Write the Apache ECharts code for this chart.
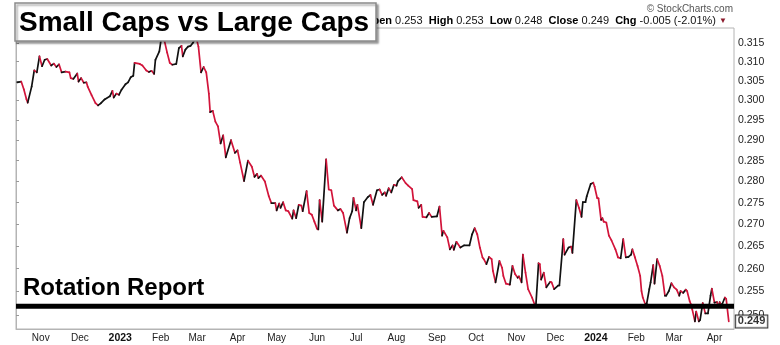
<!DOCTYPE html>
<html>
<head>
<meta charset="utf-8">
<script src="https://cdn.jsdelivr.net/npm/echarts@6/dist/echarts.min.js"></script>
<style>
  html, body { margin: 0; padding: 0; background: #fff; }
  #chart { width: 780px; height: 345px; }
</style>
</head>
<body>
<div id="chart"></div>
<script>
  // $SML:$SPX ratio, day offsets counted from startDay
  const startDay = '2022-10-13'
  const endDay = '2024-04-16'
  const dayOffset = [
    1, 4, 6, 8, 9, 12, 14, 16, 18, 20, 22, 24, 27, 29, 31, 33, 35, 38, 41, 42,
    44, 47, 48, 50, 52, 54, 55, 58, 61, 63, 65, 68, 72, 74, 75, 77, 79, 81, 84, 86,
    88, 90, 91, 95, 97, 100, 102, 104, 106, 107, 110, 112, 114, 116, 118, 120, 123, 125, 127, 128,
    130, 132, 134, 136, 138, 140, 142, 144, 146, 148, 149, 151, 153, 155, 157, 159, 161, 165, 168, 170,
    172, 175, 178, 181, 183, 185, 186, 188, 191, 194, 196, 199, 200, 202, 203, 205, 207, 209, 212, 213,
    215, 217, 219, 220, 223, 225, 227, 229, 231, 232, 233, 235, 238, 240, 242, 244, 247, 249, 251, 254,
    256, 258, 259, 261, 262, 265, 267, 270, 272, 274, 277, 279, 281, 283, 284, 286, 288, 290, 292, 293,
    296, 299, 301, 304, 305, 308, 309, 311, 312, 315, 317, 319, 323, 325, 327, 328, 331, 333, 335, 336,
    338, 341, 344, 348, 350, 352, 354, 356, 358, 359, 361, 363, 365, 366, 368, 371, 373, 374, 376, 379,
    381, 383, 385, 386, 388, 389, 391, 393, 396, 398, 399, 401, 402, 403, 405, 407, 410, 411, 413, 416,
    417, 420, 421, 424, 426, 427, 430, 432, 434, 435, 437, 438, 441, 443, 444, 446, 447, 449, 450, 451,
    453, 455, 457, 460, 462, 464, 466, 468, 470, 472, 473, 475, 477, 479, 480, 481, 483, 484, 486, 487,
    489, 490, 492, 494, 496, 498, 499, 501, 503, 505, 507, 509, 510, 512, 514, 515, 517, 518, 519, 521,
    522, 524, 525, 527, 529, 531, 533, 534, 536, 538, 539, 540, 541, 542, 544, 545, 547
  ]
  const ratio = [
    0.3046, 0.3048, 0.3028, 0.3003, 0.2994, 0.3035, 0.3077, 0.3072, 0.3114, 0.3088, 0.3105, 0.3107, 0.3090, 0.3095, 0.3086, 0.3093, 0.3072, 0.3074, 0.3072, 0.3057,
    0.3055, 0.3069, 0.3048, 0.3057, 0.3045, 0.3046, 0.3035, 0.3013, 0.2993, 0.2987, 0.2992, 0.3002, 0.3010, 0.3024, 0.3007, 0.3017, 0.3014, 0.3027, 0.3041, 0.3046,
    0.3059, 0.3063, 0.3097, 0.3094, 0.3090, 0.3077, 0.3073, 0.3076, 0.3068, 0.3105, 0.3127, 0.3175, 0.3154, 0.3124, 0.3097, 0.3092, 0.3094, 0.3136, 0.3142, 0.3114,
    0.3132, 0.3140, 0.3142, 0.3151, 0.3168, 0.3140, 0.3072, 0.3086, 0.3072, 0.3017, 0.2970, 0.2973, 0.2946, 0.2934, 0.2892, 0.2912, 0.2858, 0.2900, 0.2869, 0.2875,
    0.2845, 0.2801, 0.2850, 0.2835, 0.2811, 0.2818, 0.2808, 0.2814, 0.2800, 0.2765, 0.2749, 0.2749, 0.2732, 0.2748, 0.2738, 0.2751, 0.2732, 0.2730, 0.2713, 0.2732,
    0.2714, 0.2745, 0.2743, 0.2730, 0.2777, 0.2726, 0.2722, 0.2706, 0.2690, 0.2688, 0.2756, 0.2706, 0.2853, 0.2781, 0.2779, 0.2743, 0.2732, 0.2735, 0.2726, 0.2681,
    0.2714, 0.2730, 0.2761, 0.2732, 0.2745, 0.2691, 0.2751, 0.2763, 0.2768, 0.2745, 0.2779, 0.2781, 0.2768, 0.2774, 0.2766, 0.2784, 0.2774, 0.2792, 0.2790, 0.2800,
    0.2810, 0.2796, 0.2790, 0.2782, 0.2756, 0.2753, 0.2738, 0.2745, 0.2717, 0.2716, 0.2726, 0.2717, 0.2718, 0.2741, 0.2674, 0.2685, 0.2670, 0.2643, 0.2652, 0.2642,
    0.2660, 0.2647, 0.2652, 0.2652, 0.2677, 0.2691, 0.2677, 0.2647, 0.2625, 0.2621, 0.2610, 0.2626, 0.2621, 0.2595, 0.2570, 0.2617, 0.2602, 0.2584, 0.2567, 0.2565,
    0.2606, 0.2588, 0.2580, 0.2583, 0.2570, 0.2631, 0.2591, 0.2555, 0.2537, 0.2522, 0.2522, 0.2612, 0.2610, 0.2576, 0.2591, 0.2559, 0.2571, 0.2570, 0.2555, 0.2563,
    0.2563, 0.2666, 0.2631, 0.2647, 0.2649, 0.2635, 0.2756, 0.2738, 0.2717, 0.2751, 0.2751, 0.2765, 0.2794, 0.2797, 0.2788, 0.2761, 0.2760, 0.2710, 0.2714, 0.2706,
    0.2704, 0.2674, 0.2663, 0.2643, 0.2625, 0.2623, 0.2666, 0.2625, 0.2626, 0.2631, 0.2643, 0.2625, 0.2606, 0.2584, 0.2551, 0.2537, 0.2522, 0.2524, 0.2555, 0.2570,
    0.2608, 0.2567, 0.2621, 0.2606, 0.2584, 0.2541, 0.2541, 0.2551, 0.2568, 0.2559, 0.2554, 0.2541, 0.2551, 0.2547, 0.2554, 0.2551, 0.2529, 0.2522, 0.2511, 0.2486,
    0.2507, 0.2486, 0.2489, 0.2525, 0.2503, 0.2503, 0.2541, 0.2556, 0.2526, 0.2527, 0.2517, 0.2527, 0.2522, 0.2523, 0.2537, 0.2534, 0.2486
  ]
  const tickDates = [
    '2022-11-01', '2022-12-01', '2023-01-01', '2023-02-01', '2023-03-01', '2023-04-01',
    '2023-05-01', '2023-06-01', '2023-07-01', '2023-08-01', '2023-09-01', '2023-10-01',
    '2023-11-01', '2023-12-01', '2024-01-01', '2024-02-01', '2024-03-01', '2024-04-01'
  ]
  const tickLabels = ['Nov', 'Dec', '2023', 'Feb', 'Mar', 'Apr', 'May', 'Jun', 'Jul', 'Aug', 'Sep', 'Oct', 'Nov', 'Dec', '2024', 'Feb', 'Mar', 'Apr']
  const yTicks = [0.250, 0.255, 0.260, 0.265, 0.270, 0.275, 0.280, 0.285, 0.290, 0.295, 0.300, 0.305, 0.310, 0.315]
  const supportLevel = 0.2518
  const quoteText = '{b|Open} 0.253  {b|High} 0.253  {b|Low} 0.248  {b|Close} 0.249  {b|Chg} -0.005 (-2.01%) {t|▼}'

  const DAY = 86400000
  const toTime = s => new Date(s + 'T00:00:00Z').getTime()
  const t0 = toTime(startDay)
  const toDay = s => Math.round((toTime(s) - t0) / DAY)
  const tickDays = tickDates.map(toDay)
  const lastDay = toDay(endDay)
  const upColor = '#111111'
  const downColor = '#d2143a'
  const font = '"Liberation Sans", Arial, sans-serif'

  // each item carries the previous point so a segment can be coloured by direction
  const segs = dayOffset.map((d, i) => {
    const j = Math.max(i - 1, 0)
    return [d, ratio[i], dayOffset[j], ratio[j]]
  })
  const lastValue = ratio[ratio.length - 1]

  const chart = echarts.init(document.getElementById('chart'))
  chart.setOption({
    animation: false,
    backgroundColor: '#fff',
    grid: {
      left: 16, right: 46, top: 28, bottom: 16,
      show: true, borderColor: '#b4b4b4', borderWidth: 1,
      outerBoundsMode: 'none'
    },
    xAxis: {
      type: 'value',
      min: 0,
      max: lastDay,
      axisLine: {lineStyle: {color: '#b4b4b4'}},
      axisTick: {show: false},
      splitLine: {show: false},
      axisLabel: {
        customValues: tickDays,
        margin: 4,
        fontSize: 10,
        fontFamily: font,
        color: '#222',
        formatter: v => {
          const k = tickDays.indexOf(Math.round(v))
          if (k < 0) return ''
          const s = tickLabels[k]
          return /^\d{4}$/.test(s) ? '{y|' + s + '}' : '{m|' + s + '}'
        },
        rich: {
          y: {fontWeight: 'bold', fontSize: 10.5, fontFamily: font, color: '#111'},
          m: {fontSize: 10, fontFamily: font, color: '#222'}
        }
      }
    },
    yAxis: {
      type: 'log',
      position: 'right',
      min: 0.2470,
      max: 0.3190,
      splitLine: {show: false},
      axisLine: {show: true, lineStyle: {color: '#b4b4b4'}},
      axisTick: {show: true, customValues: yTicks, length: 3, lineStyle: {color: '#999'}},
      axisLabel: {
        customValues: yTicks,
        formatter: v => Number(v).toFixed(3),
        margin: 4,
        fontSize: 10.5,
        fontFamily: font,
        color: '#222'
      }
    },
    series: [
      {
        type: 'custom',
        clip: true,
        z: 2,
        data: segs,
        encode: {x: [0, 2], y: [1, 3]},
        renderItem: (params, api) => {
          const p0 = api.coord([api.value(2), api.value(3)])
          const p1 = api.coord([api.value(0), api.value(1)])
          return {
            type: 'line',
            shape: {x1: p0[0], y1: p0[1], x2: p1[0], y2: p1[1]},
            style: {
              stroke: api.value(1) >= api.value(3) ? upColor : downColor,
              lineWidth: 1.7,
              lineCap: 'round'
            }
          }
        }
      },
      {
        // support level
        type: 'line',
        z: 5,
        silent: true,
        symbol: 'none',
        lineStyle: {color: '#000', width: 5},
        data: [[0, supportLevel], [lastDay, supportLevel]]
      },
      {
        // last price tag on the right axis
        type: 'scatter',
        z: 6,
        clip: false,
        silent: true,
        symbolSize: 0,
        data: [[dayOffset[dayOffset.length - 1], lastValue]],
        label: {
          show: true,
          position: 'right',
          distance: 7,
          formatter: lastValue.toFixed(3),
          fontSize: 11,
          fontWeight: 'bold',
          fontFamily: font,
          color: '#000',
          backgroundColor: '#fff',
          borderColor: '#000',
          borderWidth: 1,
          padding: [1, 2, 0, 2]
        }
      }
    ],
    graphic: [
      {
        type: 'rect', z: 100,
        shape: {x: 15, y: 3, width: 361, height: 38},
        style: {fill: '#fff', stroke: '#8a8a8a', lineWidth: 1.5, shadowBlur: 2, shadowOffsetX: 2, shadowOffsetY: 2, shadowColor: 'rgba(0,0,0,0.35)'}
      },
      {
        type: 'text', z: 101, x: 19, y: 23,
        style: {text: 'Small Caps vs Large Caps', font: 'bold 28px ' + font, fill: '#000', verticalAlign: 'middle'}
      },
      {
        type: 'text', z: 101, x: 23, y: 288,
        style: {text: 'Rotation Report', font: 'bold 24px ' + font, fill: '#000', verticalAlign: 'middle'}
      },
      {
        type: 'text', z: 50, x: 727, y: 21,
        style: {
          text: quoteText, font: '11px ' + font, fill: '#111', align: 'right', verticalAlign: 'middle',
          rich: {
            b: {fontWeight: 'bold', fontSize: 11, fontFamily: font, fill: '#000'},
            t: {fontSize: 8, fontFamily: font, fill: '#8b1a2b'}
          }
        }
      },
      {
        type: 'text', z: 50, x: 733, y: 9,
        style: {text: '© StockCharts.com', font: '10px ' + font, fill: '#555', align: 'right', verticalAlign: 'middle'}
      }
    ]
  })
</script>
</body>
</html>
